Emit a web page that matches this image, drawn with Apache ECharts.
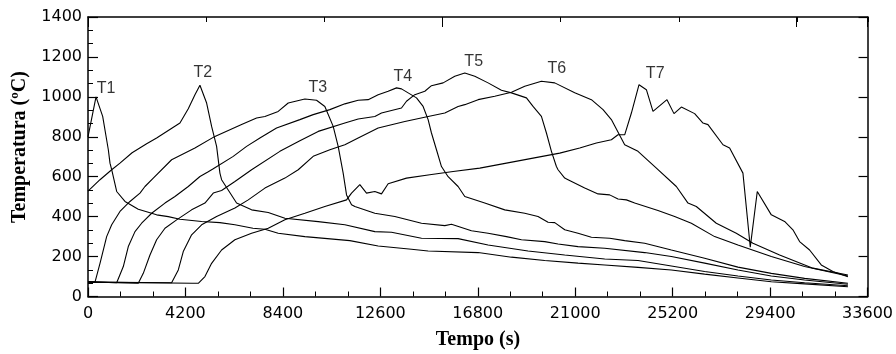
<!DOCTYPE html>
<html><head><meta charset="utf-8">
<script src="https://cdn.jsdelivr.net/npm/echarts@6/dist/echarts.min.js"></script>
<style>html,body{margin:0;padding:0;background:#fff}#c{width:896px;height:354px}</style>
</head><body><div id="c"></div>
<script>
// ---- data (time in s, temperature in ºC) ----
const seriesNames = ['T1','T2','T3','T4','T5','T6','T7'];
const t1 = [[0,800],[345,1000],[633,902],[876,735],[948,668],[1021,635],[1236,526],[1594,476],[2167,437],[2958,409],[3460,400],[3963,387],[4897,376],[5686,370],[6332,359],[7108,342],[7625,337],[8198,317],[9348,300],[11286,280],[12506,253],[13943,237],[14660,228],[16814,220],[18252,197],[19686,180],[21121,167],[22271,158],[23706,146],[25144,133],[26578,112],[28013,93],[29452,74],[30887,63],[32753,49]];
const t2 = [[0,528],[517,585],[1021,635],[1378,668],[1900,720],[2527,765],[2958,794],[3963,869],[4322,940],[4610,1010],[4825,1058],[5113,969],[5328,852],[5543,752],[5686,618],[5758,585],[6404,468],[7051,434],[7769,421],[8486,392],[9922,375],[11071,359],[12363,325],[13082,322],[14374,292],[15952,290],[17244,258],[18967,228],[20548,208],[22271,188],[23706,180],[25144,153],[26578,125],[28013,103],[29452,83],[30887,69],[32753,54]];
const t3 = [[0,75],[302,72],[517,166],[804,300],[1021,359],[1378,426],[1809,476],[2240,518],[2455,551],[2814,593],[3604,685],[4609,744],[5471,802],[6620,861],[7266,894],[7625,902],[8198,927],[8630,969],[9348,989],[9850,983],[10209,952],[10568,852],[10783,752],[10998,618],[11144,509],[11359,460],[11502,451],[12363,417],[13225,401],[14374,367],[15379,355],[15666,362],[16527,329],[17244,317],[18036,300],[18683,284],[19686,275],[20260,263],[21121,250],[22271,242],[23994,220],[25144,200],[26578,167],[28013,133],[29452,103],[30887,83],[32753,61]];
const t4 = [[0,74],[1236,69],[1522,150],[1737,250],[2025,325],[2312,367],[2743,417],[3317,468],[3748,501],[4322,551],[4825,601],[5184,625],[5399,640],[6260,702],[6836,752],[7409,794],[8127,844],[9132,886],[9706,911],[10425,936],[11071,965],[11645,983],[12076,986],[12506,1011],[12937,1028],[13297,1045],[13512,1040],[13799,1020],[14159,995],[14444,952],[14660,886],[14804,819],[15020,735],[15235,651],[15522,600],[15952,551],[16240,501],[17101,468],[17963,434],[18825,417],[19397,401],[19829,372],[20117,370],[20548,334],[21121,317],[21697,297],[22486,292],[23132,280],[23994,267],[25144,233],[26578,192],[28013,147],[29452,116],[30887,91],[32753,66]];
const t5 = [[0,73],[2167,66],[2383,116],[2671,208],[2958,284],[3317,342],[3820,384],[4466,434],[5040,468],[5399,518],[5758,531],[6332,576],[7051,635],[8271,727],[9132,780],[9922,827],[11071,869],[11645,889],[12363,902],[12650,919],[13512,944],[13727,978],[14086,1011],[14517,1028],[14804,1056],[15307,1070],[15809,1103],[16240,1120],[16671,1103],[17244,1070],[17820,1033],[18252,1020],[18898,995],[19182,952],[19543,902],[19759,819],[19974,727],[20189,651],[20260,635],[20548,593],[20691,585],[21410,543],[21984,514],[22486,509],[22844,488],[23206,484],[23563,468],[24567,431],[25286,401],[26005,367],[27009,300],[28013,258],[29452,200],[30887,150],[32753,103]];
const t6 = [[0,72],[3604,69],[3892,133],[4106,225],[4466,309],[4897,359],[5543,401],[6332,443],[6907,484],[7625,543],[8486,593],[9061,635],[9706,702],[10425,735],[11071,760],[11645,794],[12506,844],[13656,877],[14660,902],[15379,919],[15952,952],[16240,961],[16814,986],[17532,1003],[18252,1023],[18825,1053],[19543,1078],[20117,1070],[20979,1020],[21697,986],[22199,936],[22558,886],[23132,760],[23706,727],[24498,643],[25359,551],[25861,468],[26220,451],[27081,367],[27942,317],[28660,267],[29809,208],[31245,142],[32753,108]];
const t7 = [[0,72],[4500,66],[4753,66],[5040,100],[5328,166],[5758,233],[6332,284],[7051,317],[7769,342],[8486,384],[9348,417],[10209,451],[11144,484],[11359,518],[11717,560],[12005,518],[12363,526],[12650,514],[12937,565],[13727,593],[14732,610],[15737,626],[16886,643],[18036,668],[19182,693],[20332,718],[21194,744],[21912,769],[22558,785],[22844,810],[23132,810],[23421,919],[23750,1061],[24067,1036],[24352,927],[24955,986],[25257,916],[25574,949],[26148,916],[26507,869],[26722,861],[27369,760],[27655,744],[28229,618],[28545,247],[28847,526],[29452,409],[30025,376],[30383,334],[30671,275],[31102,233],[31605,158],[32106,125],[32753,99]];
const curves = [t1,t2,t3,t4,t5,t6,t7];
// label anchor points (data units) for the T1..T7 annotations
const labelTime = [776,4954,9908,13570,16624,20203,24447];
const labelTemp = [1041,1124,1046,1104,1179,1142,1119];
// axis scales
const xMin = 0, xMax = 33600, xStep = 4200;
const yMin = 0, yMax = 1400, yStep = 200;
// secondary (top) tick scale of the frame: long ticks every 3, short every 1
const topMax = 6.6, topLongStep = 3, topShortStep = 1;
const xTitle = 'Tempo (s)';
const yTitle = 'Temperatura (ºC)';

const chart = echarts.init(document.getElementById('c'), null, {renderer:'canvas'});
const tickFont = {fontFamily:'DejaVu Sans', fontSize:16, color:'#000', formatter: v => String(v)};
const blackLine = {show:true, onZero:false, lineStyle:{color:'#000', width:1.5}};
const gridBox = {left:88, right:28, top:17, bottom:57.5, containLabel:false};
const series = curves.map((d,i)=>({
  type:'line', name:seriesNames[i], data:d, xAxisIndex:0, yAxisIndex:0,
  showSymbol:false, symbol:'none', lineStyle:{color:'#000', width:1.1}, silent:true, z:3
}));
series.push({
  type:'scatter', xAxisIndex:0, yAxisIndex:0, symbolSize:1,
  itemStyle:{color:'rgba(0,0,0,0)'},
  data: seriesNames.map((n,i)=>({name:n, value:[labelTime[i], labelTemp[i]]})),
  label:{show:true, position:'inside', formatter:'{b}', color:'#000', fontFamily:'Liberation Sans', fontSize:16},
  silent:true, z:5
});
chart.setOption({
  animation:false,
  backgroundColor:'#fff',
  grid:[Object.assign({}, gridBox), Object.assign({}, gridBox)],
  xAxis:[
    {gridIndex:0, type:'value', position:'bottom', min:xMin, max:xMax, interval:xStep,
     axisLine:blackLine, axisTick:{show:true, inside:true, length:9, lineStyle:{color:'#000', width:1.2}},
     minorTick:{show:true, splitNumber:3, length:5, lineStyle:{color:'#000', width:1}},
     axisLabel:Object.assign({margin:9}, tickFont), splitLine:{show:false}},
    {gridIndex:0, type:'value', position:'top', min:0, max:topMax, interval:topLongStep,
     axisLine:blackLine, axisTick:{show:true, inside:true, length:10, lineStyle:{color:'#000', width:1}},
     axisLabel:{show:false}, splitLine:{show:false}},
    {gridIndex:1, type:'value', position:'top', min:0, max:topMax, interval:topShortStep,
     axisLine:{show:false, onZero:false}, axisTick:{show:true, inside:true, length:5, lineStyle:{color:'#000', width:1}},
     axisLabel:{show:false}, splitLine:{show:false}}
  ],
  yAxis:[
    {gridIndex:0, type:'value', position:'left', min:yMin, max:yMax, interval:yStep,
     axisLine:blackLine, axisTick:{show:true, inside:true, length:10, lineStyle:{color:'#000', width:1.2}},
     minorTick:{show:true, splitNumber:3, length:5, lineStyle:{color:'#000', width:1}},
     axisLabel:Object.assign({margin:6}, tickFont), splitLine:{show:false}},
    {gridIndex:0, type:'value', position:'right', min:yMin, max:yMax, interval:yStep,
     axisLine:blackLine, axisTick:{show:true, inside:true, length:9, lineStyle:{color:'#000', width:1.2}},
     axisLabel:{show:false}, splitLine:{show:false}},
    {gridIndex:1, type:'value', show:false, min:yMin, max:yMax, axisLine:{onZero:false}}
  ],
  graphic:[
    {type:'text', x:478, y:340, style:{text:xTitle, fill:'#000', font:'bold 20px "Liberation Serif"', textAlign:'center', textVerticalAlign:'middle'}},
    {type:'text', x:20, y:147, rotation:Math.PI/2, style:{text:yTitle, fill:'#000', font:'bold 20px "Liberation Serif"', textAlign:'center', textVerticalAlign:'middle'}}
  ],
  series:series
});
</script></body></html>
